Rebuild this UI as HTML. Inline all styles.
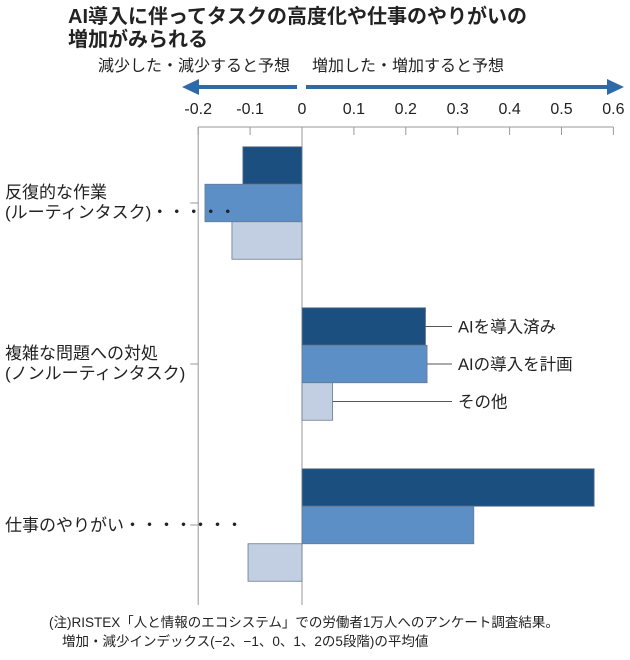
<!DOCTYPE html>
<html><head><meta charset="utf-8">
<style>
body{margin:0;background:#fff;}
svg text{font-family:"Liberation Sans","Noto Sans CJK JP",sans-serif;fill:#222;}
</style></head>
<body>
<svg id="chart" width="630" height="655" viewBox="0 0 630 655" xmlns="http://www.w3.org/2000/svg">
<text x="68" y="23" font-size="20" font-weight="bold">AI導入に伴ってタスクの高度化や仕事のやりがいの</text>
<text x="68" y="46" font-size="20" font-weight="bold">増加がみられる</text>
<text x="290" y="71" font-size="16" text-anchor="end">減少した・減少すると予想</text>
<text x="312" y="71" font-size="16">増加した・増加すると予想</text>
<g>
<line x1="196" y1="87" x2="297" y2="87" stroke="#2e6aa8" stroke-width="4"/>
<polygon points="182,87 199,79 199,95" fill="#2e6aa8"/>
</g>
<g>
<line x1="306" y1="87" x2="610" y2="87" stroke="#2e6aa8" stroke-width="4"/>
<polygon points="624,87 607,79 607,95" fill="#2e6aa8"/>
</g>
<g id="axis"></g>
<g id="bars"></g>
<g id="labels"></g>
<text x="49" y="627" font-size="13.5">(注)RISTEX「人と情報のエコシステム」での労働者1万人へのアンケート調査結果。</text>
<text x="62" y="646" font-size="13.5">増加・減少インデックス(−2、−1、0、1、2の5段階)の平均値</text>
</svg>
<script>
const categories = ["反復的な作業", "複雑な問題への対処", "仕事のやりがい"];
const subLabels = ["(ルーティンタスク)・・・・・", "(ノンルーティンタスク)", ""];
const seriesNames = ["AIを導入済み", "AIの導入を計画", "その他"];
const adopted = [-0.114, 0.238, 0.563];
const planned = [-0.187, 0.241, 0.331];
const others = [-0.135, 0.059, -0.104];
const ticks = [-0.2, -0.1, 0, 0.1, 0.2, 0.3, 0.4, 0.5, 0.6];
const tickLabels = ["-0.2", "-0.1", "0", "0.1", "0.2", "0.3", "0.4", "0.5", "0.6"];

const NS = "http://www.w3.org/2000/svg";
const x = v => 302 + v * 519;
const groupCenter = i => 203 + i * 161;
const barH = 37.5;
const colors = ["#1a4f80", "#5b8fc6", "#c2cfe3"];
function mk(tag, attrs, parent) {
  const e = document.createElementNS(NS, tag);
  for (const k in attrs) e.setAttribute(k, attrs[k]);
  parent.appendChild(e);
  return e;
}
const axis = document.getElementById("axis");
const bars = document.getElementById("bars");
const labels = document.getElementById("labels");
// x axis
const base = mk("line", {x1: x(-0.2), x2: x(0.6), y1: 127, y2: 127, stroke: "#999", "stroke-width": 1}, axis);


ticks.forEach((t, i) => {
  const tk = mk("line", {x1: x(t), x2: x(t), y1: 127, y2: 135, stroke: "#999", "stroke-width": 1}, axis);
  
  
  const tl = mk("text", {x: x(t), y: 114, "font-size": 16, "text-anchor": "middle"}, axis);
  
  
  tl.textContent = tickLabels[i];
});
const yAxis = mk("line", {x1: x(-0.2), x2: x(-0.2), y1: 127, y2: 605, stroke: "#999", "stroke-width": 1}, axis);


const zero = mk("line", {x1: x(0), x2: x(0), y1: 127, y2: 605, stroke: "#999", "stroke-width": 1}, axis);


const series = [adopted, planned, others];
categories.forEach((c, i) => {
  const gc = groupCenter(i);
  const yt = mk("line", {x1: x(-0.2) - 8, x2: x(-0.2), y1: gc, y2: gc, stroke: "#999", "stroke-width": 1}, axis);
  
  
  series.forEach((s, j) => {
    const v = s[i];
    const y0 = gc - 1.5 * barH + j * barH;
    const r = mk("rect", {x: Math.min(x(0), x(v)), y: y0, width: Math.abs(x(v) - x(0)), height: barH, fill: colors[j], stroke: "#6a7a90", "stroke-width": 0.8}, bars);
    
    
  });
  if (subLabels[i]) {
    const t1 = mk("text", {x: 5, y: gc - 5, "font-size": 17}, labels);
    
    
    t1.textContent = c;
    const t2 = mk("text", {x: 5, y: gc + 15, "font-size": 17}, labels);
    
    
    t2.textContent = subLabels[i];
  } else {
    const t1 = mk("text", {x: 5, y: gc + 6, "font-size": 17}, labels);
    
    
    t1.textContent = c + "・・・・・・・";
  }
});
// legend beside group 2
seriesNames.forEach((n, j) => {
  const gc = groupCenter(1);
  const yc = gc - barH + j * barH;
  const v = series[j][1];
  const ln = mk("line", {x1: x(v), x2: 452, y1: yc, y2: yc, stroke: "#555", "stroke-width": 1}, labels);
  
  
  const t = mk("text", {x: 458, y: yc + 6, "font-size": 16.5}, labels);
  
  
  t.textContent = n;
});
</script>
</body></html>
